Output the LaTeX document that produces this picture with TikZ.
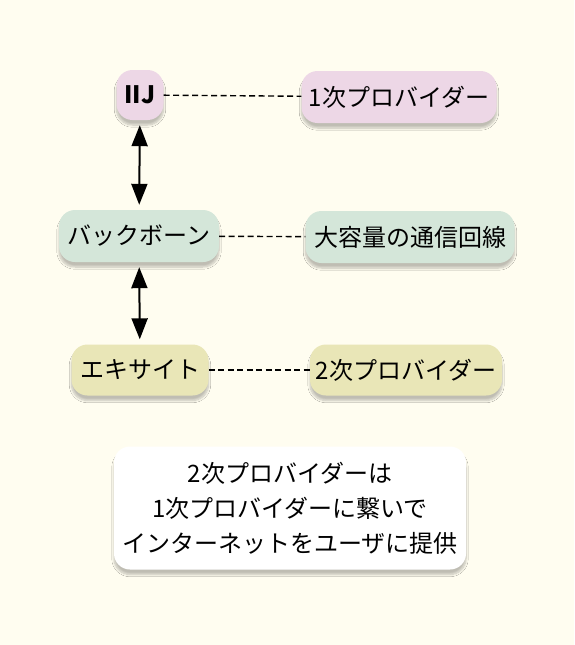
\documentclass[tikz,border=0pt]{standalone}
\usepackage{fontspec}
\setmainfont{Noto Sans CJK JP}
\usetikzlibrary{arrows.meta,shadows.blur}

\definecolor{bgcol}{HTML}{FFFDF0}
\definecolor{pinkcol}{HTML}{EDD7E6}
\definecolor{greencol}{HTML}{D4E6D9}
\definecolor{yellowcol}{HTML}{E9E6B7}

\tikzset{
  every node/.style={rounded corners=16pt,minimum height=52pt,inner sep=0pt,
    font=\fontsize{24}{35}\selectfont,
    blur shadow={shadow blur steps=8,shadow xshift=0pt,shadow yshift=-5pt,shadow opacity=25}},
  tier1/.style={fill=pinkcol},
  tier2/.style={fill=greencol},
  tier3/.style={fill=yellowcol},
  note/.style={fill=white,align=center},
  link/.style={dashed,dash pattern=on 6pt off 3.5pt,line width=1.4pt},
  flow/.style={{Triangle[length=21pt,width=16pt]}-{Triangle[length=21pt,width=16pt]},line width=2pt,shorten <=5pt,shorten >=5pt}
}

\begin{document}
\begin{tikzpicture}[x=1pt,y=-1pt]
      \fill [bgcol] (0,0) rectangle (574,645);
      \useasboundingbox (0,0) rectangle (574,645);

      \node [tier1,minimum width=47pt,minimum height=50pt,font=\fontsize{24}{35}\selectfont\bfseries] (IIJ) at (140,95) {IIJ};
      \node [tier1,minimum width=195pt] (T1) at (399,97) {1次プロバイダー};
      \node [tier2,minimum width=160pt] (BB) at (139,236) {バックボーン};
      \node [tier2,minimum width=209pt] (LINE) at (410,237) {大容量の通信回線};
      \node [tier3,minimum width=137pt,minimum height=51pt] (EX) at (140,370) {エキサイト};
      \node [tier3,minimum width=192pt,minimum height=51pt] (T2) at (406,370) {2次プロバイダー};
      \node [note,minimum width=352pt,minimum height=123pt] (NOTE) at (290,508)
        {2次プロバイダーは\\1次プロバイダーに繋いで\\インターネットをユーザに提供};

      \foreach \from/\to in {IIJ/T1,BB/LINE,EX/T2}
        \draw [link] (\from) -- (\to);
      \foreach \from/\to in {IIJ/BB,BB/EX}
        \draw [flow] (\from) -- (\to);
    \end{tikzpicture}
\end{document}
